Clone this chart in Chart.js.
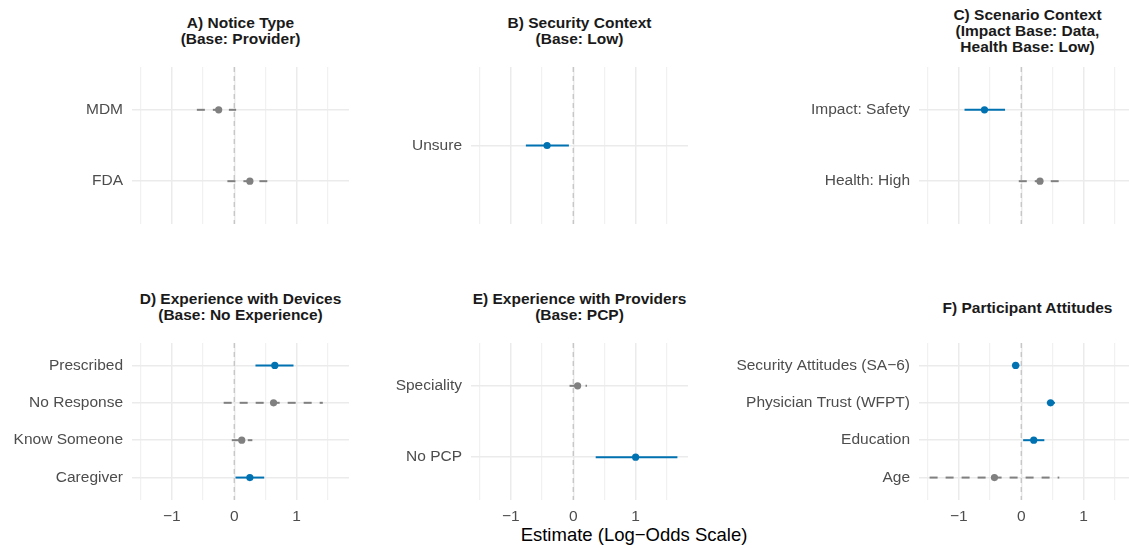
<!DOCTYPE html>
<html>
<head>
<meta charset="utf-8">
<script src="https://cdn.jsdelivr.net/npm/chart.js@4/dist/chart.umd.min.js"></script>
<style>
  html, body { margin: 0; padding: 0; background: #fff; }
  body { position: relative; width: 1129px; height: 548px; overflow: hidden; }
  canvas { position: absolute; }
  .title {
    position: absolute; text-align: center; white-space: nowrap;
    font: bold 15.5px "Liberation Sans", Arial, sans-serif; line-height: 16px; color: #1a1a1a;
  }
  #xtitle {
    position: absolute; left: 434px; top: 525px; width: 400px; text-align: center;
    font: 18.5px "Liberation Sans", Arial, sans-serif; line-height: 20px; color: #000;
  }
</style>
</head>
<body>
<div id="xtitle">Estimate (Log−Odds Scale)</div>
<script>
// ========== Data (log-odds estimates with 95% CI) ==========
// A) Notice Type
const noticeLabels = ['MDM', 'FDA'];
const noticeEst = [-0.25, 0.25];
const noticeLo = [-0.60, -0.11];
const noticeHi = [0.03, 0.53];

// B) Security Context
const securityLabels = ['Unsure'];
const securityEst = [-0.42];
const securityLo = [-0.76];
const securityHi = [-0.07];

// C) Scenario Context
const scenarioLabels = ['Impact: Safety', 'Health: High'];
const scenarioEst = [-0.59, 0.30];
const scenarioLo = [-0.91, -0.04];
const scenarioHi = [-0.26, 0.60];

// D) Experience with Devices
const deviceLabels = ['Prescribed', 'No Response', 'Know Someone', 'Caregiver'];
const deviceEst = [0.65, 0.63, 0.12, 0.25];
const deviceLo = [0.34, -0.17, -0.04, 0.02];
const deviceHi = [0.95, 1.42, 0.29, 0.48];

// E) Experience with Providers
const providerLabels = ['Speciality', 'No PCP'];
const providerEst = [0.07, 1.00];
const providerLo = [-0.06, 0.36];
const providerHi = [0.22, 1.67];

// F) Participant Attitudes
const attitudeLabels = ['Security Attitudes (SA\u22126)', 'Physician Trust (WFPT)', 'Education', 'Age'];
const attitudeEst = [-0.09, 0.47, 0.20, -0.43];
const attitudeLo = [-0.15, 0.41, 0.03, -1.47];
const attitudeHi = [-0.03, 0.54, 0.37, 0.61];

// shared x axis
const xTicks = [-1.5, -1, -0.5, 0, 0.5, 1, 1.5];
const X_MIN = -1.64;
const X_MAX = 1.84;

// ========== Layout ==========
const FONT = '"Liberation Sans", Arial, sans-serif';
const BLUE = '#0072B2';
const GREY = '#808080';
const PANEL_W = 217;
const PANEL_H = 157;
const COL_LEFT = [132, 471, 919];
const ROW_TOP = [67, 343];

const panels = [
  { title: ['A) Notice Type', '(Base: Provider)'], titleTop: 14.6, col: 0, row: 0, yW: 130,
    labels: noticeLabels, est: noticeEst, lo: noticeLo, hi: noticeHi },
  { title: ['B) Security Context', '(Base: Low)'], titleTop: 14.6, col: 1, row: 0, yW: 110,
    labels: securityLabels, est: securityEst, lo: securityLo, hi: securityHi },
  { title: ['C) Scenario Context', '(Impact Base: Data,', 'Health Base: Low)'], titleTop: 7.3, col: 2, row: 0, yW: 190,
    labels: scenarioLabels, est: scenarioEst, lo: scenarioLo, hi: scenarioHi },
  { title: ['D) Experience with Devices', '(Base: No Experience)'], titleTop: 291.3, col: 0, row: 1, yW: 130,
    labels: deviceLabels, est: deviceEst, lo: deviceLo, hi: deviceHi },
  { title: ['E) Experience with Providers', '(Base: PCP)'], titleTop: 291.3, col: 1, row: 1, yW: 110,
    labels: providerLabels, est: providerEst, lo: providerLo, hi: providerHi },
  { title: ['F) Participant Attitudes'], titleTop: 299.6, col: 2, row: 1, yW: 190,
    labels: attitudeLabels, est: attitudeEst, lo: attitudeLo, hi: attitudeHi }
];

// dashed reference line at 0
const zeroLine = {
  id: 'zeroLine',
  beforeDatasetsDraw(chart) {
    const { ctx, chartArea, scales } = chart;
    const x = scales.x.getPixelForValue(0);
    ctx.save();
    ctx.strokeStyle = '#C4C4C4';
    ctx.lineWidth = 1.3;
    ctx.setLineDash([5, 4]);
    ctx.beginPath();
    ctx.moveTo(x, chartArea.top);
    ctx.lineTo(x, chartArea.bottom);
    ctx.stroke();
    ctx.restore();
  }
};

function fmtTick(v) {
  if (!Number.isInteger(v)) return '';
  return v < 0 ? '\u2212' + Math.abs(v) : String(v);
}

// no label overhang padding: the panel fills the whole chart area
function noPad(s) {
  s.paddingTop = 0;
  s.paddingBottom = 0;
  s.paddingLeft = 0;
  s.paddingRight = 0;
}

panels.forEach(p => {
  const bottomRow = p.row === 1;
  const xH = bottomRow ? 30 : 0;
  const left = COL_LEFT[p.col];
  const top = ROW_TOP[p.row];

  // title
  const t = document.createElement('div');
  t.className = 'title';
  t.style.left = (left - 60) + 'px';
  t.style.width = (PANEL_W + 120) + 'px';
  t.style.top = p.titleTop + 'px';
  t.innerHTML = p.title.join('<br>');
  document.body.appendChild(t);

  // canvas
  const cv = document.createElement('canvas');
  cv.width = p.yW + PANEL_W;
  cv.height = PANEL_H + xH;
  cv.style.left = (left - p.yW) + 'px';
  cv.style.top = top + 'px';
  document.body.appendChild(cv);

  const sig = p.est.map((_, i) => p.lo[i] > 0 || p.hi[i] < 0);
  const colors = sig.map(s => s ? BLUE : GREY);

  const ciSets = p.est.map((_, i) => ({
    data: [{ x: p.lo[i], y: i + 1 }, { x: p.hi[i], y: i + 1 }],
    showLine: true,
    borderColor: colors[i],
    borderWidth: 2,
    borderDash: sig[i] ? [] : [8, 8],
    pointRadius: 0,
    order: 1
  }));

  const pointSet = {
    data: p.est.map((v, i) => ({ x: v, y: i + 1 })),
    pointRadius: 3.6,
    pointBorderWidth: 0,
    pointBackgroundColor: colors,
    order: 0
  };

  const chart = new Chart(cv, {
    type: 'scatter',
    data: { datasets: [pointSet, ...ciSets] },
    options: {
      responsive: false,
      maintainAspectRatio: false,
      animation: false,
      layout: { padding: 0 },
      plugins: { legend: { display: false }, tooltip: { enabled: false } },
      scales: {
        x: {
          type: 'linear',
          min: X_MIN,
          max: X_MAX,
          border: { display: false },
          grid: {
            drawTicks: false,
            color: c => (c.tick && Number.isInteger(c.tick.value)) ? '#EBEBEB' : '#F1F1F1',
            lineWidth: c => (c.tick && Number.isInteger(c.tick.value)) ? 1.5 : 1.2
          },
          ticks: {
            display: bottomRow,
            padding: 7,
            autoSkip: false,
            maxRotation: 0,
            color: '#4D4D4D',
            font: { family: FONT, size: 15.5 },
            callback: v => fmtTick(v)
          },
          afterBuildTicks: s => { s.ticks = xTicks.map(v => ({ value: v })); },
          afterFit: s => { s.height = xH; noPad(s); }
        },
        y: {
          type: 'linear',
          min: 0.4,
          max: p.labels.length + 0.6,
          reverse: true,
          border: { display: false },
          grid: { drawTicks: false, color: '#EBEBEB', lineWidth: 1.5 },
          ticks: {
            padding: 9,
            autoSkip: false,
            color: '#4D4D4D',
            font: { family: FONT, size: 15.5 },
            callback: v => p.labels[v - 1]
          },
          afterBuildTicks: s => { s.ticks = p.labels.map((_, i) => ({ value: i + 1 })); },
          afterFit: s => { s.width = p.yW; noPad(s); }
        }
      }
    },
    plugins: [zeroLine]
  });

  // grow the canvas until the plot area has the panel size, then place it
  for (let k = 0; k < 3; k++) {
    const a = chart.chartArea;
    const dw = PANEL_W - (a.right - a.left);
    const dh = PANEL_H - (a.bottom - a.top);
    if (Math.abs(dw) < 0.5 && Math.abs(dh) < 0.5) break;
    chart.resize(Math.round(chart.width + dw), Math.round(chart.height + dh));
  }
  cv.style.left = (left - chart.chartArea.left) + 'px';
  cv.style.top = (top - chart.chartArea.top) + 'px';
});
</script>
</body>
</html>
